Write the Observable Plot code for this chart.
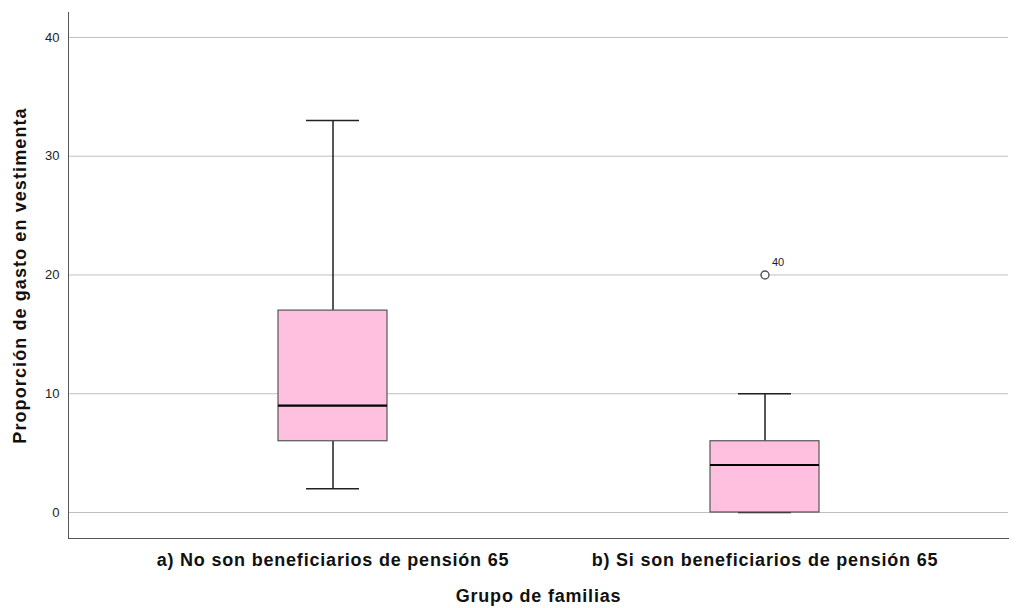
<!DOCTYPE html>
<html>
<head>
<meta charset="utf-8">
<script src="https://cdn.jsdelivr.net/npm/d3@7"></script>
<script src="https://cdn.jsdelivr.net/npm/@observablehq/plot@0.6"></script>
<style>
  body { margin: 0; background: #fff; }
  #chart svg { font-family: "Liberation Sans", Arial, sans-serif; }
</style>
</head>
<body>
<div id="chart"></div>
<script>
const groups = ["a) No son beneficiarios de pensión 65", "b) Si son beneficiarios de pensión 65"];
const whiskerLow = [2, 0];
const q1 = [6, 0];
const median = [9, 4];
const q3 = [17, 6];
const whiskerHigh = [33, 10];
const outlierGroup = ["b) Si son beneficiarios de pensión 65"];
const outlierValue = [20];
const outlierLabel = ["40"];
const yTicks = [0, 10, 20, 30, 40];
const yTitle = "Proporción de gasto en vestimenta";
const xTitle = "Grupo de familias";

const stats = groups.map((g, i) => ({group: g, lo: whiskerLow[i], q1: q1[i], med: median[i], q3: q3[i], hi: whiskerHigh[i]}));
const outliers = outlierGroup.map((g, i) => ({group: g, value: outlierValue[i], label: outlierLabel[i]}));

const chart = Plot.plot({
  width: 1020,
  height: 608,
  marginLeft: 68,
  marginRight: 12,
  marginTop: 12,
  marginBottom: 70,
  style: {fontFamily: "Liberation Sans, Arial, sans-serif", background: "#fff"},
  x: {domain: groups, range: [116, 980], paddingInner: 0.7477, paddingOuter: 0.3738, label: null},
  y: {domain: [-2.19, 42.1], label: null},
  marks: [
    Plot.ruleY(yTicks, {stroke: "#c0c0c0", strokeWidth: 1}),
    Plot.frame({anchor: "left", stroke: "#555"}),
    Plot.frame({anchor: "bottom", stroke: "#555"}),
    Plot.axisY(yTicks, {tickSize: 0, tickPadding: 9, fontSize: 13, fill: "#222", label: null}),
    Plot.axisX({tickSize: 0, tickPadding: 15, fontSize: 18, fontWeight: "bold", fill: "#111", label: null}),
    Plot.text([yTitle], {frameAnchor: "left", textAnchor: "middle", rotate: -90, dx: -48, fontSize: 18, fontWeight: "bold", fill: "#111"}),
    Plot.text([xTitle], {frameAnchor: "bottom", dy: 63, fontSize: 18, fontWeight: "bold", fill: "#111"}),
    Plot.ruleX(stats, {x: "group", y1: "lo", y2: "q1", stroke: "#111", strokeWidth: 1.4}),
    Plot.ruleX(stats, {x: "group", y1: "q3", y2: "hi", stroke: "#111", strokeWidth: 1.4}),
    Plot.tickY(stats, {x: "group", y: "lo", stroke: "#222", strokeWidth: 1.6, insetLeft: 28, insetRight: 28}),
    Plot.tickY(stats, {x: "group", y: "hi", stroke: "#222", strokeWidth: 1.6, insetLeft: 28, insetRight: 28}),
    Plot.barY(stats, {x: "group", y1: "q1", y2: "q3", fill: "#ffc0e0", stroke: "#555", strokeWidth: 1.2}),
    Plot.tickY(stats, {x: "group", y: "med", stroke: "#000", strokeWidth: 2.2}),
    Plot.dot(outliers, {x: "group", y: "value", r: 4, stroke: "#555", strokeWidth: 1.4, fill: "#fff"}),
    Plot.text(outliers, {x: "group", y: "value", text: "label", dx: 13, dy: -12, fontSize: 11, fill: "#222"})
  ]
});
d3.select(chart).selectAll("text").each(function() {
  const t = this.textContent;
  if (t === yTitle) this.setAttribute("letter-spacing", "1.1");
  else if (t.length > 5) this.setAttribute("letter-spacing", "0.8");
});
document.getElementById("chart").appendChild(chart);
</script>
</body>
</html>
